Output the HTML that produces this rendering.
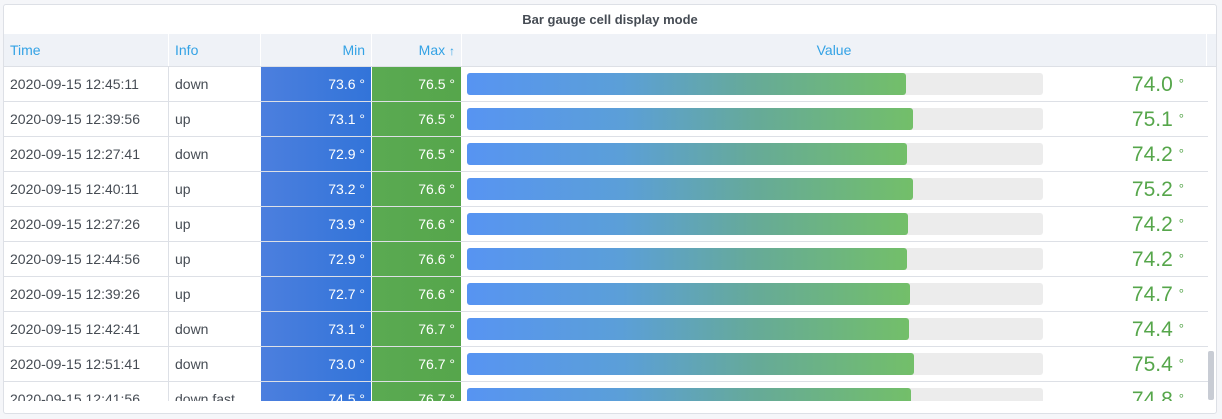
<!DOCTYPE html><html><head><style>
body{margin:0;width:1222px;height:419px;background:#f5f6f9;font-family:"Liberation Sans",sans-serif;position:relative;overflow:hidden}
.panel{position:absolute;left:3px;top:4px;width:1212px;height:408px;background:#fff;border:1px solid #dde0e6;border-radius:3px;overflow:hidden}
.title{position:absolute;left:0;width:100%;top:7px;text-align:center;font-size:13px;font-weight:bold;color:#464c54}
.hdr{position:absolute;left:0;top:29px;width:1212px;height:32px;background:#eff2f7;border-bottom:1px solid #dde0e6}
.h{position:absolute;top:0;height:32px;line-height:32px;font-size:14px;color:#33a2e5;border-right:1px solid #fff;box-sizing:border-box;padding:0 6px}
.body{position:absolute;left:0;top:62px;width:1204px;height:334px;overflow:hidden}
.row{position:absolute;left:0;width:1204px;height:35px;border-bottom:1px solid #dde0e6;box-sizing:border-box}
.c{position:absolute;top:0;height:34px;line-height:34px;font-size:14px;color:#464c54;box-sizing:border-box;padding:0 6px;white-space:nowrap}
.mn{background:linear-gradient(90deg,#4c7fde,#3274d9);color:#fff;text-align:right;padding-right:6px}
.mx{background:linear-gradient(90deg,#5aaa52,#56a64b);color:#fff;text-align:right;padding-right:6px}
.bg{position:absolute;left:463px;top:6px;width:576px;height:22px;background:#ececec;border-radius:3px}
.fill{position:absolute;left:0;top:0;height:22px;border-radius:3px;background:linear-gradient(90deg,#5794f2 0%,#5b9fd8 35%,#66aa98 65%,#73bf69 100%)}
.v{position:absolute;right:24px;top:0;line-height:34px;font-size:21px;color:#56a64b}
.v span{font-size:13px;margin-left:6px;vertical-align:3px}
.sb{position:absolute;left:1204px;top:346px;width:6px;height:49px;background:#c8ccd4;border-radius:2px}
</style></head><body><div class="panel">
<div class="title">Bar gauge cell display mode</div>
<div class="hdr">
<div class="h" style="left:0;width:165px">Time</div>
<div class="h" style="left:165px;width:92px">Info</div>
<div class="h" style="left:257px;width:111px;text-align:right">Min</div>
<div class="h" style="left:368px;width:90px;text-align:right">Max <b style="font-size:12px">↑</b></div>
<div class="h" style="left:458px;width:745px;text-align:center">Value</div>
</div>
<div class="body">
<div class="row" style="top:0"><div class="c" style="left:0">2020-09-15 12:45:11</div><div class="c" style="left:165px">down</div><div class="c mn" style="left:257px;width:110px">73.6 °</div><div class="c mx" style="left:368px;width:89px">76.5 °</div><div class="bg"><div class="fill" style="width:439px"></div></div><div class="v">74.0<span>°</span></div></div>
<div class="row" style="top:35px"><div class="c" style="left:0">2020-09-15 12:39:56</div><div class="c" style="left:165px">up</div><div class="c mn" style="left:257px;width:110px">73.1 °</div><div class="c mx" style="left:368px;width:89px">76.5 °</div><div class="bg"><div class="fill" style="width:446px"></div></div><div class="v">75.1<span>°</span></div></div>
<div class="row" style="top:70px"><div class="c" style="left:0">2020-09-15 12:27:41</div><div class="c" style="left:165px">down</div><div class="c mn" style="left:257px;width:110px">72.9 °</div><div class="c mx" style="left:368px;width:89px">76.5 °</div><div class="bg"><div class="fill" style="width:440px"></div></div><div class="v">74.2<span>°</span></div></div>
<div class="row" style="top:105px"><div class="c" style="left:0">2020-09-15 12:40:11</div><div class="c" style="left:165px">up</div><div class="c mn" style="left:257px;width:110px">73.2 °</div><div class="c mx" style="left:368px;width:89px">76.6 °</div><div class="bg"><div class="fill" style="width:446px"></div></div><div class="v">75.2<span>°</span></div></div>
<div class="row" style="top:140px"><div class="c" style="left:0">2020-09-15 12:27:26</div><div class="c" style="left:165px">up</div><div class="c mn" style="left:257px;width:110px">73.9 °</div><div class="c mx" style="left:368px;width:89px">76.6 °</div><div class="bg"><div class="fill" style="width:441px"></div></div><div class="v">74.2<span>°</span></div></div>
<div class="row" style="top:175px"><div class="c" style="left:0">2020-09-15 12:44:56</div><div class="c" style="left:165px">up</div><div class="c mn" style="left:257px;width:110px">72.9 °</div><div class="c mx" style="left:368px;width:89px">76.6 °</div><div class="bg"><div class="fill" style="width:440px"></div></div><div class="v">74.2<span>°</span></div></div>
<div class="row" style="top:210px"><div class="c" style="left:0">2020-09-15 12:39:26</div><div class="c" style="left:165px">up</div><div class="c mn" style="left:257px;width:110px">72.7 °</div><div class="c mx" style="left:368px;width:89px">76.6 °</div><div class="bg"><div class="fill" style="width:443px"></div></div><div class="v">74.7<span>°</span></div></div>
<div class="row" style="top:245px"><div class="c" style="left:0">2020-09-15 12:42:41</div><div class="c" style="left:165px">down</div><div class="c mn" style="left:257px;width:110px">73.1 °</div><div class="c mx" style="left:368px;width:89px">76.7 °</div><div class="bg"><div class="fill" style="width:442px"></div></div><div class="v">74.4<span>°</span></div></div>
<div class="row" style="top:280px"><div class="c" style="left:0">2020-09-15 12:51:41</div><div class="c" style="left:165px">down</div><div class="c mn" style="left:257px;width:110px">73.0 °</div><div class="c mx" style="left:368px;width:89px">76.7 °</div><div class="bg"><div class="fill" style="width:447px"></div></div><div class="v">75.4<span>°</span></div></div>
<div class="row" style="top:315px"><div class="c" style="left:0">2020-09-15 12:41:56</div><div class="c" style="left:165px">down fast</div><div class="c mn" style="left:257px;width:110px">74.5 °</div><div class="c mx" style="left:368px;width:89px">76.7 °</div><div class="bg"><div class="fill" style="width:444px"></div></div><div class="v">74.8<span>°</span></div></div>
<div style="position:absolute;left:164px;top:0;width:1px;height:334px;background:#dde0e6"></div>
</div>
<div class="sb"></div>
</div></body></html>
